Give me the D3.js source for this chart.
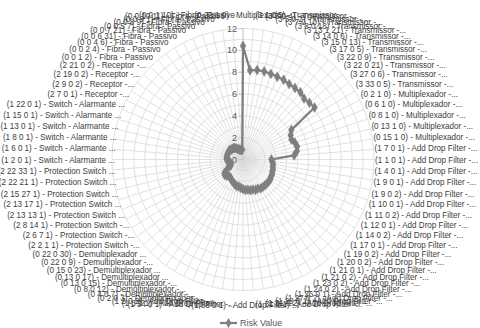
<!DOCTYPE html>
<html><head><meta charset="utf-8">
<script src="https://cdn.jsdelivr.net/npm/d3@7"></script>
<style>html,body{margin:0;padding:0;background:#fff;}svg{display:block;}</style>
</head><body>
<svg id="chart" width="480" height="328"></svg>
<script>
const categories = [
"(0 22 1 0) - Multiplexador -...",
"(3 1 0 5) - Transmissor -...",
"(3 3 0 4) - Transmissor -...",
"(3 5 0 2) - Transmissor -...",
"(3 7 0 10) - Transmissor -...",
"(3 8 0 18) - Transmissor -...",
"(3 13 1 21) - Transmissor -...",
"(3 14 0 6) - Transmissor -...",
"(3 15 0 13) - Transmissor -...",
"(3 17 0 5) - Transmissor -...",
"(3 22 0 9) - Transmissor -...",
"(3 22 0 21) - Transmissor -...",
"(3 27 0 6) - Transmissor -...",
"(3 33 0 5) - Transmissor -...",
"(0 2 1 0) - Multiplexador -...",
"(0 6 1 0) - Multiplexador -...",
"(0 8 1 0) - Multiplexador -...",
"(0 13 1 0) - Multiplexador -...",
"(0 15 1 0) - Multiplexador -...",
"(1 7 0 1) - Add Drop Filter -...",
"(1 1 0 1) - Add Drop Filter -...",
"(1 4 0 1) - Add Drop Filter -...",
"(1 9 0 1) - Add Drop Filter -...",
"(1 9 0 2) - Add Drop Filter -...",
"(1 10 0 1) - Add Drop Filter -...",
"(1 11 0 2) - Add Drop Filter -...",
"(1 12 0 1) - Add Drop Filter -...",
"(1 14 0 2) - Add Drop Filter -...",
"(1 17 0 1) - Add Drop Filter -...",
"(1 19 0 2) - Add Drop Filter -...",
"(1 20 0 2) - Add Drop Filter -...",
"(1 21 0 1) - Add Drop Filter -...",
"(1 21 0 2) - Add Drop Filter -...",
"(1 23 0 2) - Add Drop Filter -...",
"(1 24 0 2) - Add Drop Filter -...",
"(1 26 0 1) - Add Drop Filter -...",
"(1 27 0 2) - Add Drop Filter -...",
"(1 29 0 1) - Add Drop Filter -...",
"(1 31 0 2) - Add Drop Filter -...",
"(1 31 0 1) - Add Drop Filter -...",
"(1 33 0 1) - Add Drop Filter -...",
"(1 34 0 1) - Add Drop Filter -...",
"(1 3 0 1) - Add Drop Filter -...",
"(1 2 0 2) - Add Drop Filter -...",
"(0 2 0 3) - Demultiplexador -...",
"(0 4 0 7) - Demultiplexador -...",
"(0 8 0 12) - Demultiplexador -...",
"(0 13 0 15) - Demultiplexador -...",
"(0 13 0 17) - Demultiplexador ...",
"(0 15 0 23) - Demultiplexador ...",
"(0 22 0 9) - Demultiplexador -...",
"(0 22 0 30) - Demultiplexador ...",
"(2 2 1 1) - Protection Switch -...",
"(2 6 7 1) - Protection Switch -...",
"(2 8 14 1) - Protection Switch -...",
"(2 13 13 1) - Protection Switch ...",
"(2 13 17 1) - Protection Switch ...",
"(2 15 27 1) - Protection Switch ...",
"(2 22 21 1) - Protection Switch ...",
"(2 22 33 1) - Protection Switch ...",
"(1 2 0 1) - Switch - Alarmante ...",
"(1 6 0 1) - Switch - Alarmante ...",
"(1 8 0 1) - Switch - Alarmante ...",
"(1 13 0 1) - Switch - Alarmante ...",
"(1 15 0 1) - Switch - Alarmante ...",
"(1 22 0 1) - Switch - Alarmante ...",
"(2 7 0 1) - Receptor -...",
"(2 9 0 2) - Receptor -...",
"(2 19 0 2) - Receptor -...",
"(2 21 0 2) - Receptor -...",
"(0 0 1 2) - Fibra - Passivo",
"(0 0 2 4) - Fibra - Passivo",
"(0 0 4 6) - Fibra - Passivo",
"(0 0 6 31) - Fibra - Passivo",
"(0 0 7 21) - Fibra - Passivo",
"(0 0 5 7) - Fibra - Passivo",
"(0 0 8 9) - Fibra - Passivo",
"(0 0 9 1) - Fibra - Passivo",
"(0 0 10 11) - Fibra - Passivo",
"(0 0 1 10) - Fibra - Passivo"
];
const riskValue = [
10.4, 8.2, 8.3, 8.3, 8.25, 8.2, 8.2, 8.1, 8.1, 8.1, 7.9, 8.0, 8.1,
5.2, 4.9, 4.8, 5.0, 5.1, 5.0, 4.7,
2.6, 2.7, 2.8, 2.8, 2.9, 2.9, 3.0, 3.0, 3.1, 3.1, 3.1, 3.1, 3.1, 3.1, 3.0, 3.0, 2.9, 2.9, 2.8, 2.8,
2.7, 2.6, 2.5, 2.5, 2.4, 2.3, 2.2, 2.1, 2.0, 2.0, 2.1, 2.2, 2.1, 1.7, 1.3, 1.2, 1.2, 1.2, 1.3, 1.4,
1.5, 1.5, 1.5, 1.5, 1.5, 1.5, 1.5, 1.5, 1.5, 1.4, 1.4, 1.35, 1.3, 1.2, 1.1, 1.0, 0.95, 0.9, 0.9, 0.9
];
const seriesName = "Risk Value";
const tickValues = [0, 2, 4, 6, 8, 10, 12];
const gridValues = [1,2,3,4,5,6,7,8,9,10,11,12];

const svg = d3.select("#chart");
const cx = 243, cy = 159.5, R = 131;
const n = categories.length;
const r = d3.scaleLinear().domain([0, 12]).range([0, R]);
const ang = d3.scaleLinear().domain([0, n]).range([0, 2 * Math.PI]);
const g = svg.append("g").attr("transform", `translate(${cx},${cy})`);

const gridColor = "#d9d9d9";
gridValues.forEach(v => {
  g.append("path")
    .attr("d", d3.lineRadial().curve(d3.curveLinearClosed)
      .angle((d, i) => ang(i)).radius(() => r(v))(categories))
    .attr("fill", "none").attr("stroke", gridColor).attr("stroke-width", 0.8);
});
g.selectAll("line.spoke").data(categories).enter().append("line")
  .attr("x1", 0).attr("y1", 0)
  .attr("x2", (d, i) => r(12) * Math.sin(ang(i)))
  .attr("y2", (d, i) => -r(12) * Math.cos(ang(i)))
  .attr("stroke", gridColor).attr("stroke-width", 0.8);

g.append("line").attr("x1", 0).attr("x2", 0).attr("y1", 0).attr("y2", -r(12))
  .attr("stroke", "#bfbfbf").attr("stroke-width", 0.8);
tickValues.forEach(v => {
  g.append("line").attr("x1", -4).attr("x2", 0).attr("y1", -r(v)).attr("y2", -r(v))
    .attr("stroke", "#bfbfbf").attr("stroke-width", 0.8);
  g.append("text").attr("x", -6).attr("y", -r(v)).attr("dy", "0.35em")
    .attr("text-anchor", "end").attr("font-family", "Liberation Sans, Arial, sans-serif")
    .attr("font-size", 9).attr("fill", "#595959").text(v);
});

// category labels (horizontally condensed to mimic a narrow font)
g.selectAll("text.cat").data(categories).enter().append("text")
  .attr("class", "cat")
  .each(function (d, i) {
    const a = ang(i), s = Math.sin(a), c = Math.cos(a);
    const x = 2 + (R - 1) * s;
    const y = -(R + 2) * c - c * 12;
    const anchor = s > 0.03 ? "start" : (s < -0.03 ? "end" : "middle");
    d3.select(this).attr("transform", `translate(${x},${y}) scale(0.9,1)`)
      .attr("dy", "0.35em").attr("text-anchor", anchor);
  })
  .attr("font-family", "Liberation Sans, Arial, sans-serif")
  .attr("font-size", 9).attr("fill", "#404040")
  .text(d => d);

const dataColor = "#7f7f7f";
g.append("path")
  .attr("d", d3.lineRadial().curve(d3.curveLinearClosed)
    .angle((d, i) => ang(i)).radius(d => r(d))(riskValue))
  .attr("fill", "none").attr("stroke", dataColor).attr("stroke-width", 2.25)
  .attr("stroke-linejoin", "round");
const diamond = d3.symbol().type(d3.symbolDiamond).size(28);
g.selectAll("path.mk").data(riskValue).enter().append("path")
  .attr("class", "mk").attr("d", diamond)
  .attr("transform", (d, i) => `translate(${r(d) * Math.sin(ang(i))},${-r(d) * Math.cos(ang(i))})`)
  .attr("fill", dataColor).attr("stroke", dataColor).attr("stroke-width", 0.5);

const lg = svg.append("g").attr("transform", "translate(220,323)");
lg.append("line").attr("x1", 0).attr("x2", 17).attr("y1", 0).attr("y2", 0)
  .attr("stroke", dataColor).attr("stroke-width", 2.25);
lg.append("path").attr("d", diamond).attr("transform", "translate(8.5,0)").attr("fill", dataColor);
lg.append("text").attr("x", 20).attr("y", 0).attr("dy", "0.35em")
  .attr("font-family", "Liberation Sans, Arial, sans-serif").attr("font-size", 9)
  .attr("fill", "#595959").text(seriesName);
</script>
</body></html>
